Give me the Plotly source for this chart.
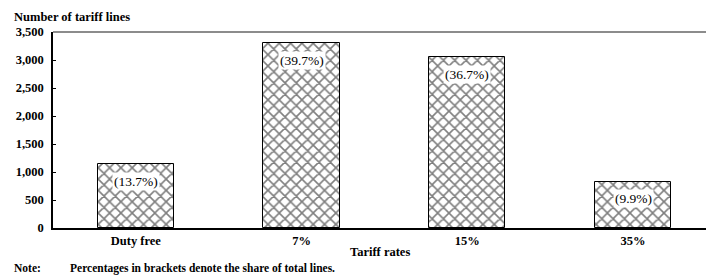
import plotly.graph_objects as go

categories = ["Duty free", "7%", "15%", "35%"]
tariff_lines = [1140, 3303, 3053, 824]
share_labels = ["(13.7%)", "(39.7%)", "(36.7%)", "(9.9%)"]
y_ticks = [0, 500, 1000, 1500, 2000, 2500, 3000, 3500]
y_tick_labels = ["0", "500", "1,000", "1,500", "2,000", "2,500", "3,000", "3,500"]

FONT = "Liberation Serif"

fig = go.Figure()
fig.add_trace(go.Bar(
    x=list(range(len(categories))),
    y=tariff_lines,
    width=0.46,
    marker=dict(
        color="white",
        line=dict(color="black", width=1),
        pattern=dict(shape="x", fgcolor="black", bgcolor="white", size=8, solidity=0.36),
    ),
    hoverinfo="skip",
))

for i, (v, lab) in enumerate(zip(tariff_lines, share_labels)):
    fig.add_annotation(
        x=i, y=v, text=lab, showarrow=False, yshift=-17,
        bgcolor="white", borderpad=1,
        font=dict(family=FONT, size=13.5, color="black"),
    )

fig.add_annotation(
    xref="paper", yref="paper", x=-0.063, y=1.0, yshift=15,
    xanchor="left", yanchor="middle", showarrow=False,
    text="<b>Number of tariff lines</b>",
    font=dict(family=FONT, size=12.5, color="black"),
)
fig.add_annotation(
    xref="paper", yref="paper", x=0.5, y=0, yshift=-24,
    xanchor="center", yanchor="middle", showarrow=False,
    text="<b>Tariff rates</b>",
    font=dict(family=FONT, size=12.5, color="black"),
)
fig.add_annotation(
    xref="paper", yref="paper", x=-0.063, y=0, yshift=-40,
    xanchor="left", yanchor="middle", showarrow=False,
    text="<b>Note:</b>",
    font=dict(family=FONT, size=11.5, color="black"),
)
fig.add_annotation(
    xref="paper", yref="paper", x=0.023, y=0, yshift=-40,
    xanchor="left", yanchor="middle", showarrow=False,
    text="<b>Percentages in brackets denote the share of total lines.</b>",
    font=dict(family=FONT, size=11.5, color="black"),
)

fig.add_shape(type="line", xref="paper", yref="paper", x0=0, x1=1, y0=1, y1=1,
              line=dict(color="#666666", width=1.5))

fig.update_layout(
    width=707, height=279,
    margin=dict(l=53, r=1, t=32, b=51, autoexpand=False),
    paper_bgcolor="white", plot_bgcolor="white",
    showlegend=False,
    bargap=0,
    xaxis=dict(
        range=[-0.5, 3.44],
        tickmode="array",
        tickvals=list(range(len(categories))),
        ticktext=["<b>%s</b>" % c for c in categories],
        tickfont=dict(family=FONT, size=12.5, color="black"),
        showline=True, linecolor="black", linewidth=1.5,
        ticks="", showgrid=False, zeroline=False,
        automargin=False,
    ),
    yaxis=dict(
        range=[0, 3500],
        tickmode="array",
        tickvals=y_ticks,
        ticktext=["<b>%s</b>" % t for t in y_tick_labels],
        tickfont=dict(family=FONT, size=12.5, color="black"),
        showline=True, linecolor="black", linewidth=1.5,
        ticks="inside", ticklen=3, tickcolor="black",
        showgrid=False, zeroline=False,
        ticklabelstandoff=5,
        automargin=False,
    ),
)

fig.write_html(
    "out.html",
    config={"displayModeBar": False},
    post_script="document.body.style.margin='0';document.body.style.overflow='hidden';",
)
